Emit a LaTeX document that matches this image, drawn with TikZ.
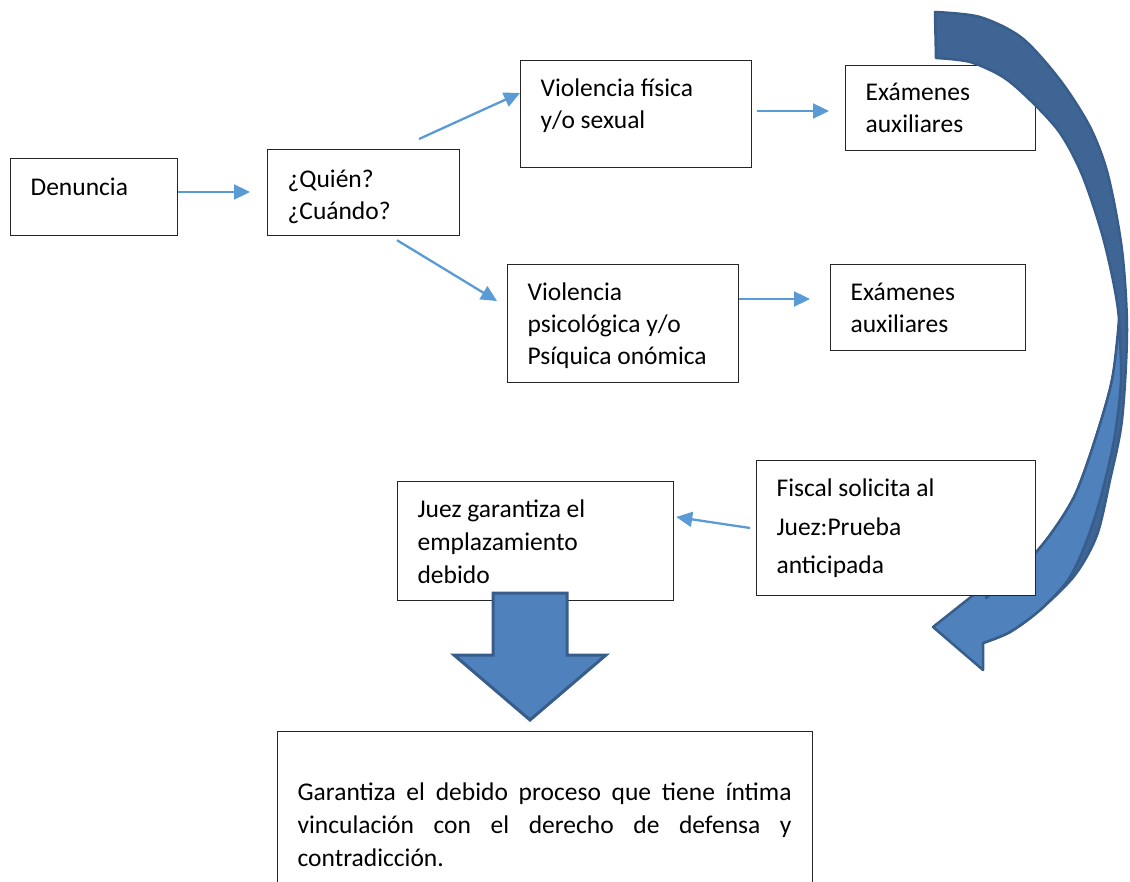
\documentclass[tikz,border=0pt]{standalone}
\usepackage{fontspec}
\setmainfont{Carlito}
\usetikzlibrary{arrows.meta}
\definecolor{conn}{RGB}{91,155,213}
\definecolor{bfront}{RGB}{79,129,189}
\definecolor{bback}{RGB}{62,101,148}
\definecolor{bline}{RGB}{56,93,138}
\newcommand\bxt[5]{\parbox[c][#2][t]{#1}{\fontsize{25.5}{#3}\selectfont\leftskip=20pt\rightskip=0pt plus 1fil\relax\noindent\rule{0pt}{#4}#5}}
\begin{document}
\begin{tikzpicture}[x=1pt,y=-1pt,
  box/.style={draw=black!85,line width=1.2pt,fill=white,inner sep=0pt,anchor=north west},
  conn/.style={draw=conn,line width=2.3pt,-{Triangle[length=16pt,width=15pt]}},
  blockarrow/.style={fill=bfront,draw=bline,line width=3pt,line join=miter},
  backface/.style={fill=bback,draw=bline,line width=2.5pt,line join=round},
  frontface/.style={fill=bfront,draw=bline,line width=2.5pt,line join=round}]
\useasboundingbox (0,0) rectangle (1130,882);
\clip (0,0) rectangle (1130,882);
\node[box] (den) at (10,158) {\bxt{167pt}{77pt}{32pt}{37pt}{Denuncia}};
\node[box] (qui) at (267,149) {\bxt{192pt}{86pt}{32pt}{38pt}{¿Quién?\\¿Cuándo?}};
\node[box] (fis) at (520,60) {\bxt{231pt}{107pt}{32pt}{36pt}{Violencia física\\y/o sexual}};
\node[box] (exa) at (845,65) {\bxt{190pt}{85pt}{32pt}{35pt}{Exámenes\\auxiliares}};
\node[box] (psi) at (507,264) {\bxt{231pt}{118pt}{32pt}{36pt}{Violencia\\psicológica y/o\\Psíquica onómica}};
\node[box] (exb) at (830,264) {\bxt{195pt}{86pt}{32pt}{36pt}{Exámenes\\auxiliares}};
\node[box] (gar) at (277,731) {\bxt{535pt}{200pt}{33pt}{69pt}{\makebox[494pt][s]{Garantiza el debido proceso que tiene íntima}\\\makebox[494pt][s]{vinculación con el derecho de defensa y}\\contradicción.}};
% curved block arrow
\path[backface] plot[smooth] coordinates {(935,12) (980,17) (1022,38) (1060,80) (1090,127) (1108,175) (1122,250) (1127,330) (1122,420) (1110,480) (1097,535) (1075,575) (1040,610) (1010,632) (983,643)}
  -- (986,598)
  -- plot[smooth] coordinates {(986,598) (1020,570) (1050,535) (1075,495) (1095,440) (1112,380) (1119,320) (1105,245) (1083,177) (1060,133) (1030,100) (1003,77) (970,62) (936,58)}
  -- cycle;
\path[frontface] plot[smooth] coordinates {(1119,320) (1121,380) (1114,440) (1100,500) (1085,545) (1068,580) (1040,610) (1010,632) (983,643)}
  -- (983,670) -- (933,627) -- (986,585)
  -- plot[smooth] coordinates {(986,598) (1020,570) (1050,535) (1075,495) (1095,440) (1112,380) (1119,320)}
  -- cycle;
\node[box] (fsc) at (756,460) {\bxt{279pt}{135pt}{38.5pt}{36pt}{Fiscal solicita al\\Juez:Prueba\\anticipada}};
\node[box] (jue) at (397,481) {\bxt{276pt}{119pt}{33pt}{36pt}{Juez garantiza el\\emplazamiento\\debido}};
% down block arrow
\path[blockarrow] (493,593) -- (567,593) -- (567,655) -- (606,655) -- (530,720) -- (454,655) -- (493,655) -- cycle;
% connectors
\draw[conn] ([yshift=-34pt]den.north east) -- ([xshift=-17pt,yshift=-43pt]qui.north west);
\draw[conn] ([xshift=152pt,yshift=10pt]qui.north west) -- ([yshift=-33pt]fis.north west);
\draw[conn] ([xshift=130pt,yshift=-4pt]qui.south west) -- ([xshift=-10pt,yshift=-37pt]psi.north west);
\draw[conn] ([xshift=5pt,yshift=-51pt]fis.north east) -- ([xshift=-16pt,yshift=-46pt]exa.north west);
\draw[conn] ([yshift=-35pt]psi.north east) -- ([xshift=-20pt,yshift=-35pt]exb.north west);
\draw[conn] ([xshift=-6pt,yshift=-68pt]fsc.north west) -- ([xshift=2pt,yshift=-36pt]jue.north east);
\end{tikzpicture}
\end{document}
